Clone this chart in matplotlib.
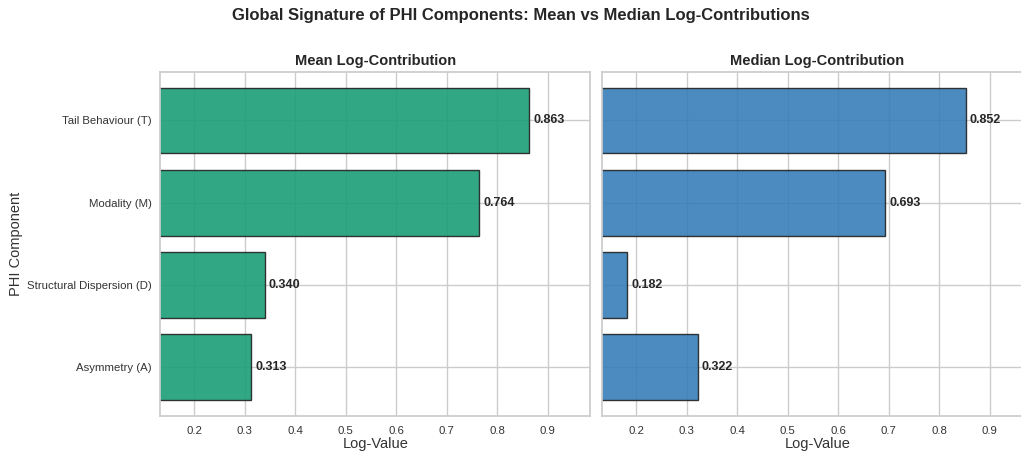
import matplotlib
matplotlib.use("Agg")
import matplotlib.pyplot as plt
import seaborn as sns
import numpy as np

# componentes PHI y sus log-contribuciones
components = ["Tail Behaviour (T)", "Modality (M)", "Structural Dispersion (D)", "Asymmetry (A)"]
mean_vals = [0.863, 0.764, 0.340, 0.313]
median_vals = [0.852, 0.693, 0.182, 0.322]

sns.set_theme(style="whitegrid")
plt.rcParams['font.family'] = ['Liberation Sans', 'DejaVu Sans']

fig, axes = plt.subplots(1, 2, figsize=(10.21, 4.55), dpi=100, sharey=True, sharex=True)

y = np.arange(len(components))

panels = [
    (axes[0], mean_vals, "#1b9e77", "Mean Log-Contribution"),
    (axes[1], median_vals, "#377eb8", "Median Log-Contribution"),
]

for ax, vals, col, title in panels:
    bars = ax.barh(y, vals, height=0.8, color=col, alpha=0.9, edgecolor="#222222", linewidth=1.0)
    for b, v in zip(bars, vals):
        ax.text(v + 0.008, b.get_y() + b.get_height() / 2, f"{v:.3f}",
                va="center", ha="left", fontsize=9, fontweight="bold", color="#262626")
    ax.set_title(title, fontsize=10.5, fontweight="bold", color="#262626", pad=5)
    ax.set_xlabel("Log-Value", fontsize=10.5, color="#333333", labelpad=1)
    ax.set_xlim(0.133, 0.984)
    ax.set_xticks([0.2, 0.3, 0.4, 0.5, 0.6, 0.7, 0.8, 0.9])
    ax.tick_params(axis="both", labelsize=8.2, colors="#333333", pad=1)
    for s in ax.spines.values():
        s.set_color("#cccccc")

axes[0].set_yticks(y)
axes[0].set_yticklabels(components)
axes[0].invert_yaxis()
axes[0].tick_params(axis="y", pad=0)
axes[0].set_ylabel("PHI Component", fontsize=10.5, color="#333333")
axes[0].yaxis.set_label_coords(-0.32, 0.5)

fig.suptitle("Global Signature of PHI Components: Mean vs Median Log-Contributions",
             fontsize=12, fontweight="bold", color="#262626", x=0.51, y=0.982)
fig.subplots_adjust(left=0.157, right=1.011, top=0.842, bottom=0.086, wspace=0.028)
fig.savefig("out.png", dpi=100)
